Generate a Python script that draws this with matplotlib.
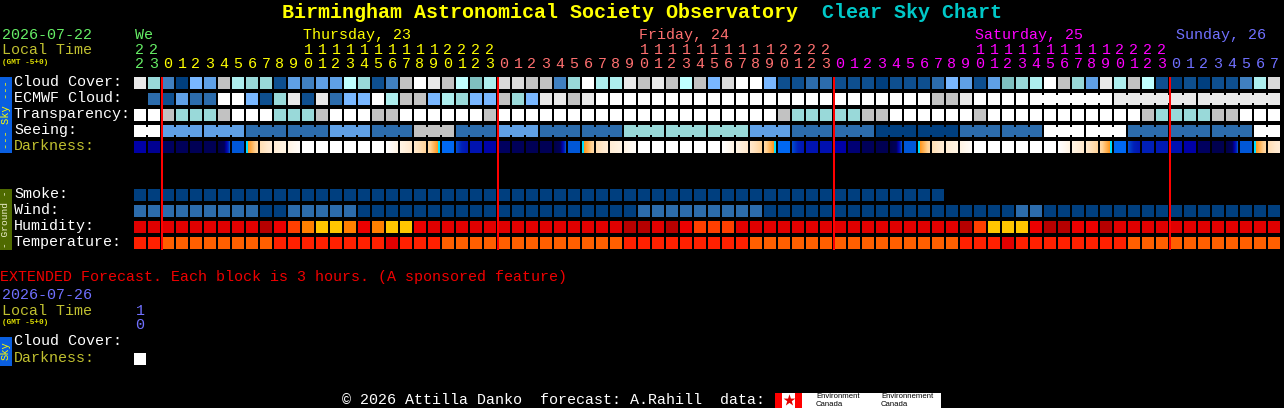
import numpy as np
import matplotlib
matplotlib.use('Agg')
import matplotlib.pyplot as plt
from matplotlib.colors import LinearSegmentedColormap

# forecast rows, one letter per block, see palette below
cloud_cover = "k g d a f e l h g g b e d e e i g b d l j k l i t h m m l l d g j h h k l k l i l f m j j f b b c c b b b a b b b c f e b e t g h j l g e k h l i b a b a b b d h m".split()
ecmwf_cloud = ("- c b e c c j j f b g k b k c f f j h l l f h g f f l g f k k l k "
               "j j j j j j j j j j j j j j j j j j j j j j j j l l k "
               "j j j j j j j j j j k k k k k k k k k k k k").split()
ecmwf_blocks = [1] * 64 + [6, 6, 6]
transparency = ("j j l g g g l j j j g g g l j j j l l j j j j j j l "
                "j j j j j j j j j j j j j j j j j j j j l g g g g g l l "
                "j j j j j j l j j j j j j j j j j j l g g g g l l j j j").split()
seeing_values = "j e e c c e c l c e c c g g g e c c a a c c j j c c c j".split()
seeing_blocks = [2] + [3] * 26 + [2]
smoke = ["a"] * 58
wind = ("c c c c c c c c c a a c c c c c a a a a a a a a a a a a a a a a a a a a "
        "c c c c c c c c c a a a a a a a a a a a a a a a a a a c c "
        "a a a a a a a a a a a a a a a a a").split()
humidity = ("r r r r r r r r r R s o O y y O s O y y s r r r r r r r r r r r r r r "
            "R R r R s o o o r r r r r r r r r r r r r r r r R o y y y s R R s s R "
            "r r r r r r r r r r r r").split()
temperature = ("T T O O O O O O O O T T T T T T T T D T T T O O O O O O O O O O O O O "
               "T T T T T T T T T O O O O O O O O O O O O O O O "
               "T T T D T T T T T T T T O O O O O O O O O O O").split()

# darkness, (left, middle, right) of each block on the colour ramp
TRANS = (0.03, 0.08, 0.36)
DAWN = (0.47, 0.56, 0.66)
DUSK = (0.66, 0.56, 0.47)
darkness = [(.2, .2, .2), (.17, .17, .17), (.1, .1, .1), (.08, .08, .08), (.07, .07, .07), (.07, .07, .07), TRANS, (.38, .38, .38),
            DAWN, (.7, .74, .8), (.8, .84, .88), (.88, .93, .97), (1, 1, 1), (1, 1, 1), (1, 1, 1), (1, 1, 1), (1, 1, 1), (1, 1, 1),
            (1, .95, .88), (.88, .82, .75), (.75, .7, .64), DUSK, (.42, .42, .42), (.36, .3, .27), (.26, .26, .26), (.21, .21, .21),
            (.1, .1, .1), (.08, .08, .08), (.07, .07, .07), (.07, .07, .07), TRANS, (.38, .38, .38),
            DAWN, (.7, .74, .8), (.8, .84, .88), (.88, .93, .97), (1, 1, 1), (1, 1, 1), (1, 1, 1), (1, 1, 1), (1, 1, 1), (1, 1, 1),
            (1, .95, .88), (.88, .82, .75), (.75, .7, .64), DUSK, (.42, .42, .42), (.36, .3, .27), (.26, .26, .26), (.25, .25, .25),
            (.2, .2, .2), (.13, .13, .13), (.08, .08, .08), (.06, .06, .06), TRANS, (.38, .38, .38),
            DAWN, (.7, .74, .8), (.8, .84, .88), (.88, .93, .97), (1, 1, 1), (1, 1, 1), (1, 1, 1), (1, 1, 1), (1, 1, 1), (1, 1, 1),
            (1, .95, .88), (.88, .82, .75), (.75, .7, .64), DUSK, (.42, .42, .42), (.36, .3, .27), (.3, .3, .3), (.28, .28, .28),
            (.25, .25, .25), (.2, .2, .2), (.1, .1, .1), (.05, .05, .05), TRANS, (.38, .38, .38), DAWN, (.7, .74, .8)]

hours = [22, 23] + list(range(24)) * 3 + list(range(8))
row_labels = ["Cloud Cover:", "ECMWF Cloud:", "Transparency:", "Seeing:", "Darkness:"]
ground_labels = ["Smoke:", "Wind:", "Humidity:", "Temperature:"]
day_labels = ["We", "Thursday, 23", "Friday, 24", "Saturday, 25", "Sunday, 26"]
day_label_cols = [0, 12, 36, 60, 74]
day_first_cols = [0, 2, 26, 50, 74]
midnight_cols = [2, 26, 50, 74]

palette = {"a": "#003f7f", "b": "#0e4f8f", "c": "#2c6cac", "d": "#4080c0", "e": "#5fa0e6", "f": "#79b7ff",
           "g": "#99d9d9", "t": "#7fbfbf", "h": "#aeeeee", "i": "#bfffff", "j": "#ffffff", "k": "#e9e9e9",
           "m": "#dadada", "l": "#c2c2c2", "r": "#e00000", "R": "#b60000", "s": "#ec0000", "o": "#ff3f00",
           "O": "#ff8000", "y": "#ffc600", "T": "#ff2000", "D": "#e00000"}
palette_temp = dict(palette, O="#ff5f00")
day_colors = ["#66ee66", "#ffff00", "#ff7070", "#ff00ff", "#7070ff"]
OLIVE = "#c0c030"

dark_cmap = LinearSegmentedColormap.from_list("dark", [
    (0, "#000040"), (.1, "#000060"), (.2, "#0000a8"), (.3, "#0020b8"), (.38, "#0058d8"), (.44, "#0070ff"),
    (.47, "#00e0ff"), (.495, "#00e0ff"), (.5, "#ff9820"), (.62, "#ffd090"), (.75, "#ffe8cc"), (.88, "#fff4e4"), (1, "#ffffff")], N=512)

plt.rcParams['font.family'] = ['Liberation Mono', 'DejaVu Sans Mono']
LEFT, PITCH, CELL = 134, 14, 12

fig = plt.figure(figsize=(12.84, 4.08), dpi=100, facecolor='black')
ax = fig.add_axes([0, 0, 1, 1], facecolor='black')


def col_x(i):
    return LEFT + PITCH * i


def put(x, y, s, color='white', size=10.8, **kw):
    ax.text(x, y, s, color=color, fontsize=size, va='center', **kw)


def draw_row(values, top, colors=palette):
    for i, v in enumerate(values):
        if v == "-":
            continue
        ax.bar(col_x(i), CELL, bottom=top, width=CELL, align='edge', color=colors[v], antialiased=False)


def draw_links(values, blocks, top):
    # the blocks that span several hours have a narrow neck between cells
    start = 0
    for n in blocks:
        for i in range(start, start + n - 1):
            ax.bar(col_x(i) + CELL, CELL - 4, bottom=top + 2, width=PITCH - CELL, align='edge',
                   color=palette[values[i]], antialiased=False)
        start += n


seeing = list(np.repeat(seeing_values, seeing_blocks))
draw_row(cloud_cover, 77)
draw_row(ecmwf_cloud, 93)
draw_links(ecmwf_cloud, ecmwf_blocks, 93)
draw_row(transparency, 109)
draw_row(seeing, 125)
draw_links(seeing, seeing_blocks, 125)

for i, stops in enumerate(darkness):
    vals = np.interp(np.linspace(0, 2, CELL), [0, 1, 2], stops)
    ax.imshow(vals[None, :], cmap=dark_cmap, vmin=0, vmax=1, aspect='auto', interpolation='nearest',
              extent=(col_x(i), col_x(i) + CELL, 153, 141))

draw_row(smoke, 189)
draw_row(wind, 205)
draw_row(humidity, 221)
draw_row(temperature, 237, palette_temp)

# midnight lines
for c in midnight_cols:
    ax.bar(col_x(c) - 1, 173, bottom=77, width=2, align='edge', color='#ff0000', antialiased=False, zorder=5)

# hour digits
for i, h in enumerate(hours):
    day = np.searchsorted(day_first_cols, i, side='right') - 1
    if h >= 10:
        put(col_x(i) + 6, 50, str(h // 10), day_colors[day], ha='center')
    put(col_x(i) + 6, 64, str(h % 10), day_colors[day], ha='center')

for label, c, color in zip(day_labels, day_label_cols, day_colors):
    put(col_x(c) + (6 if c == 74 else 1), 35, label, color)

# titles
put(282, 12, "Birmingham Astronomical Society Observatory", '#ffff00', size=14.4, fontweight='bold')
put(822, 12, "Clear Sky Chart", '#00c8c8', size=14.4, fontweight='bold')

put(2, 35, "2026-07-22", day_colors[0])
put(2, 50, "Local Time", OLIVE)
put(2, 62, "(GMT -5+0)", '#e0e000', size=5.6, fontweight='bold')

for label, y in zip(row_labels, [82, 98, 114, 130, 146]):
    put(14, y, label, OLIVE if label == "Darkness:" else 'white')
for label, y in zip(ground_labels, [194, 210, 226, 242]):
    put(14, y, label)

# side bars
ax.bar(0, 76, bottom=77, width=12, align='edge', color='#0a5fe0', antialiased=False)
ax.bar(0, 61, bottom=189, width=12, align='edge', color='#4f6a00', antialiased=False)
ax.bar(0, 29, bottom=337, width=12, align='edge', color='#0a5fe0', antialiased=False)
put(6, 115, "--- Sky ---", '#ffff00', size=7.5, rotation=90, ha='center', rotation_mode='anchor')
put(6, 219, "- Ground -", '#f0f0d0', size=6.8, rotation=90, ha='center', rotation_mode='anchor')
put(6, 351, "Sky", '#ffff00', size=7.5, rotation=90, ha='center', rotation_mode='anchor')

# extended forecast
put(0, 277, "EXTENDED Forecast. Each block is 3 hours. (A sponsored feature)", '#f00000')
put(2, 295, "2026-07-26", day_colors[4])
put(2, 311, "Local Time", OLIVE)
put(2, 322, "(GMT -5+0)", '#e0e000', size=5.6, fontweight='bold')
put(col_x(0) + 6, 311, "1", day_colors[4], ha='center')
put(col_x(0) + 6, 325, "0", day_colors[4], ha='center')
put(14, 341, "Cloud Cover:")
put(14, 358, "Darkness:", OLIVE)
ax.bar(col_x(0), CELL, bottom=353, width=CELL, align='edge', color='white', antialiased=False)

# footer
put(342, 400, "\u00a9 2026 Attilla Danko  forecast: A.Rahill  data:")
ax.bar(775, 15, bottom=393, width=166, align='edge', color='white', antialiased=False)
ax.bar(775, 15, bottom=393, width=7, align='edge', color='#ff0000', antialiased=False)
ax.bar(795, 15, bottom=393, width=7, align='edge', color='#ff0000', antialiased=False)
ax.scatter([788.5], [400], marker='*', s=80, color='#e00000', linewidths=0)
for x, top, bottom in [(816, "Environment", "Canada"), (881, "Environnement", "Canada")]:
    ax.text(x, 396.5, top, color='black', fontsize=5.6, va='center', family='Liberation Sans')
    ax.text(x, 404, bottom, color='black', fontsize=5.6, va='center', family='Liberation Sans')

ax.set_xlim(0, 1284)
ax.set_ylim(408, 0)
ax.axis('off')
fig.savefig('out.png', dpi=100, facecolor='black')
